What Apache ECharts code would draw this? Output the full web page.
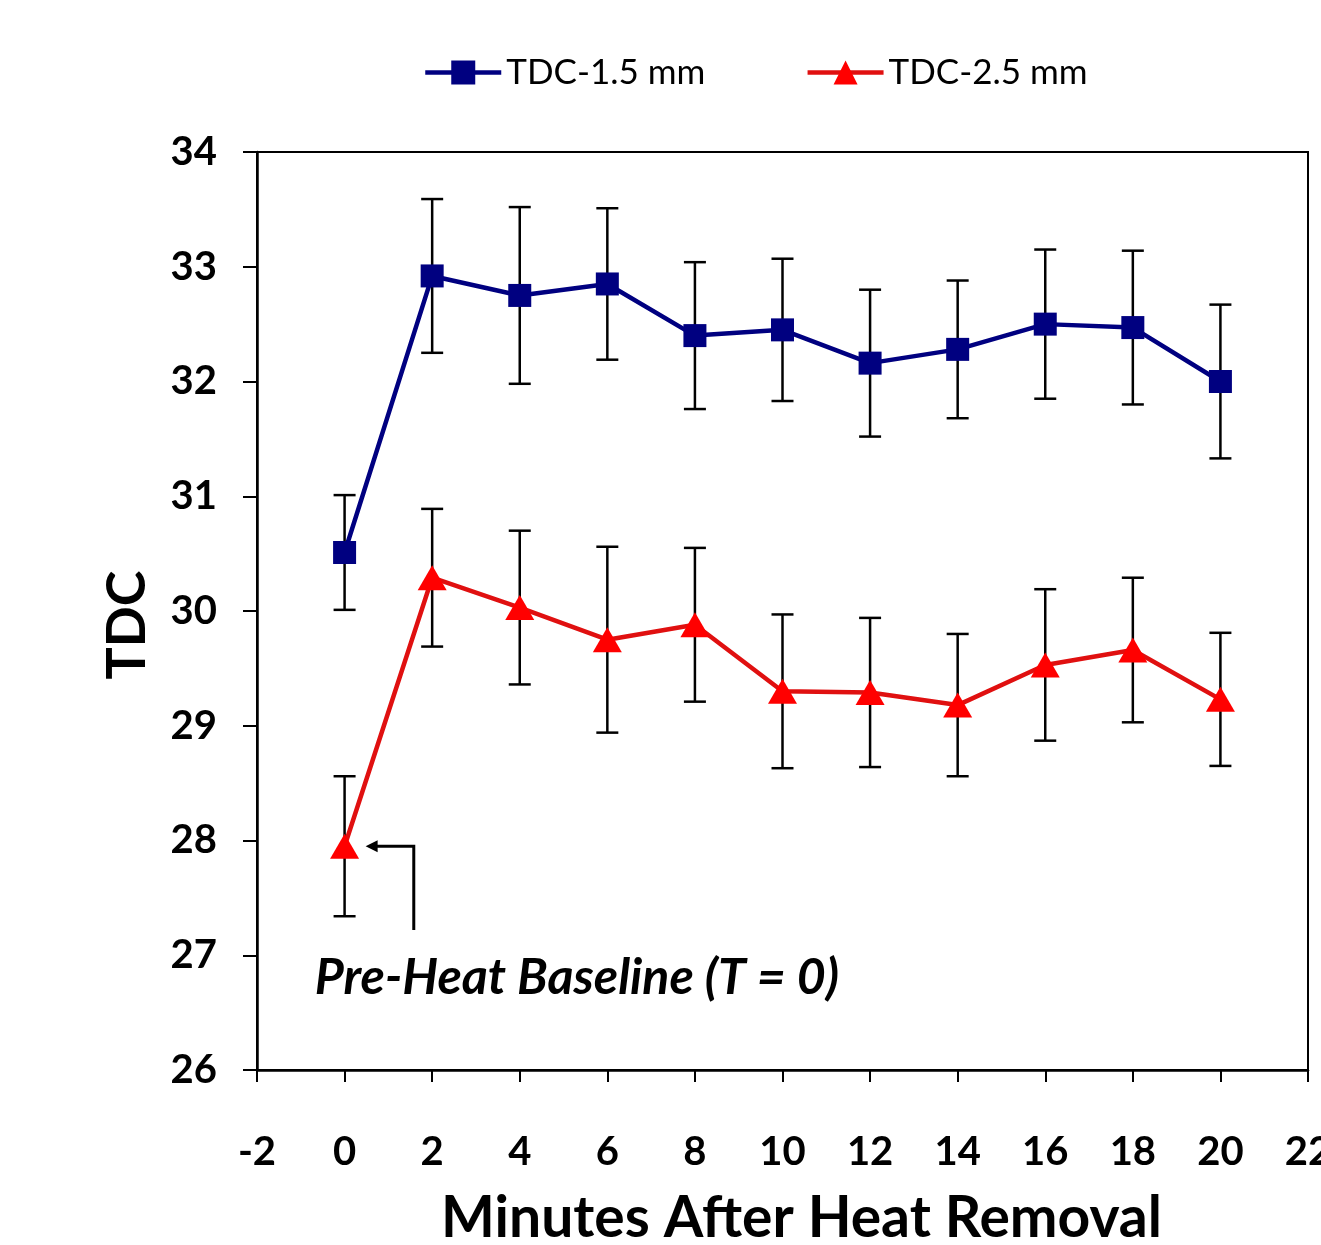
<!DOCTYPE html>
<html>
<head>
<meta charset="utf-8">
<script src="https://cdn.jsdelivr.net/npm/echarts@6/dist/echarts.min.js"></script>
<style>
html,body{margin:0;padding:0;background:#fff;}
#main{width:1321px;height:1245px;}
</style>
</head>
<body>
<div id="main"></div>
<script>
// ---- data ----
const minutes = [0, 2, 4, 6, 8, 10, 12, 14, 16, 18, 20];
const tdc15 = [30.51, 32.92, 32.75, 32.85, 32.40, 32.45, 32.16, 32.28, 32.50, 32.47, 32.00];
const tdc15Err = [0.50, 0.67, 0.77, 0.66, 0.64, 0.62, 0.64, 0.60, 0.65, 0.67, 0.67];
const tdc25 = [27.95, 30.29, 30.03, 29.75, 29.88, 29.30, 29.29, 29.18, 29.53, 29.66, 29.23];
const tdc25Err = [0.61, 0.60, 0.67, 0.81, 0.67, 0.67, 0.65, 0.62, 0.66, 0.63, 0.58];
const seriesNames = ['TDC-1.5 mm', 'TDC-2.5 mm'];
const xTicks = {min: -2, max: 22, interval: 2};
const yTicks = {min: 26, max: 34, interval: 1};
const annotationText = 'Pre-Heat Baseline (T = 0)';

const FONT = 'Lato, "Open Sans", sans-serif';

function pairs(xs, ys) { return xs.map((x, i) => [x, ys[i]]); }
function errData(xs, ys, es) { return xs.map((x, i) => [x, ys[i] - es[i], ys[i] + es[i]]); }

function errRender(params, api) {
  const x = api.value(0);
  const lo = api.coord([x, api.value(1)]);
  const hi = api.coord([x, api.value(2)]);
  const cap = 11;
  const style = {stroke: '#000', lineWidth: 2.5};
  return {
    type: 'group',
    children: [
      {type: 'line', shape: {x1: lo[0], y1: lo[1], x2: hi[0], y2: hi[1]}, style},
      {type: 'line', shape: {x1: lo[0] - cap, y1: lo[1], x2: lo[0] + cap, y2: lo[1]}, style},
      {type: 'line', shape: {x1: hi[0] - cap, y1: hi[1], x2: hi[0] + cap, y2: hi[1]}, style}
    ]
  };
}

const chart = echarts.init(document.getElementById('main'), null, {renderer: 'canvas'});
const option = {
  animation: false,
  backgroundColor: '#fff',
  legend: {
    top: 50,
    left: 418,
    itemWidth: 76,
    itemHeight: 30,
    itemGap: 100,
    lineStyle: {width: 4.5},
    textStyle: {fontFamily: FONT, fontSize: 35, color: '#000', fontWeight: 'normal'},
    data: seriesNames
  },
  grid: {
    left: 257, right: 13, top: 152, bottom: 175,
    outerBoundsMode: 'none',
    containLabel: false,
    show: true, borderColor: '#000', borderWidth: 2, backgroundColor: 'transparent'
  },
  xAxis: {
    type: 'value',
    min: xTicks.min, max: xTicks.max, interval: xTicks.interval,
    name: 'Minutes After Heat Removal',
    nameLocation: 'middle',
    nameGap: 120,
    nameTextStyle: {fontFamily: FONT, fontSize: 57, fontWeight: 'bold', color: '#000', padding: [0, 0, 0, 38]},
    axisLine: {show: true, onZero: false, lineStyle: {color: '#000', width: 2.5}},
    axisTick: {show: true, inside: false, length: 12, lineStyle: {color: '#000', width: 2}},
    axisLabel: {margin: 62, fontFamily: FONT, fontSize: 40, fontWeight: 'bold', color: '#000', showMinLabel: true, showMaxLabel: true},
    splitLine: {show: false}
  },
  yAxis: {
    type: 'value',
    min: yTicks.min, max: yTicks.max, interval: yTicks.interval,
    name: 'TDC',
    nameLocation: 'middle',
    nameGap: 102,
    nameTextStyle: {fontFamily: FONT, fontSize: 54, fontWeight: 'bold', color: '#000', padding: [0, 28, 0, 0]},
    axisLine: {show: true, onZero: false, lineStyle: {color: '#000', width: 2.5}},
    axisTick: {show: true, inside: false, length: 14, lineStyle: {color: '#000', width: 2}},
    axisLabel: {margin: 40, fontFamily: FONT, fontSize: 40, fontWeight: 'bold', color: '#000'},
    splitLine: {show: false}
  },
  series: [
    {
      type: 'custom', name: 'err15', renderItem: errRender, z: 1,
      data: errData(minutes, tdc15, tdc15Err), encode: {x: 0, y: [1, 2]}, silent: true
    },
    {
      type: 'custom', name: 'err25', renderItem: errRender, z: 1,
      data: errData(minutes, tdc25, tdc25Err), encode: {x: 0, y: [1, 2]}, silent: true
    },
    {
      type: 'line', name: seriesNames[0], z: 3,
      data: pairs(minutes, tdc15),
      symbol: 'rect', symbolSize: 23,
      lineStyle: {color: '#000080', width: 4.5},
      itemStyle: {color: '#000080'}
    },
    {
      type: 'line', name: seriesNames[1], z: 3,
      data: pairs(minutes, tdc25),
      symbol: 'triangle', symbolSize: [29, 25],
      lineStyle: {color: '#e01010', width: 4.5},
      itemStyle: {color: '#ff0000'}
    }
  ]
};
chart.setOption(option);

// annotation (anchored in data space)
const tip = chart.convertToPixel({gridIndex: 0}, [0.48, tdc25[0]]);
const corner = chart.convertToPixel({gridIndex: 0}, [1.58, tdc25[0]]);
const bottom = chart.convertToPixel({gridIndex: 0}, [1.58, 27.22]);
const textPos = chart.convertToPixel({gridIndex: 0}, [-0.68, 26.8]);
chart.setOption({
  graphic: [
    {
      type: 'polyline', z: 10,
      shape: {points: [[bottom[0], bottom[1]], [corner[0], corner[1]], [tip[0] + 10, tip[1]]]},
      style: {stroke: '#000', lineWidth: 3, fill: null}
    },
    {
      type: 'polygon', z: 10,
      shape: {points: [[tip[0], tip[1]], [tip[0] + 12, tip[1] - 6], [tip[0] + 12, tip[1] + 6]]},
      style: {fill: '#000'}
    },
    {
      type: 'text', z: 10, x: textPos[0], y: textPos[1],
      style: {text: annotationText, fontFamily: FONT, fontSize: 50, fontWeight: 'bold', fontStyle: 'italic',
              fill: '#000', textAlign: 'left', textVerticalAlign: 'middle'}
    }
  ]
});
</script>
</body>
</html>
